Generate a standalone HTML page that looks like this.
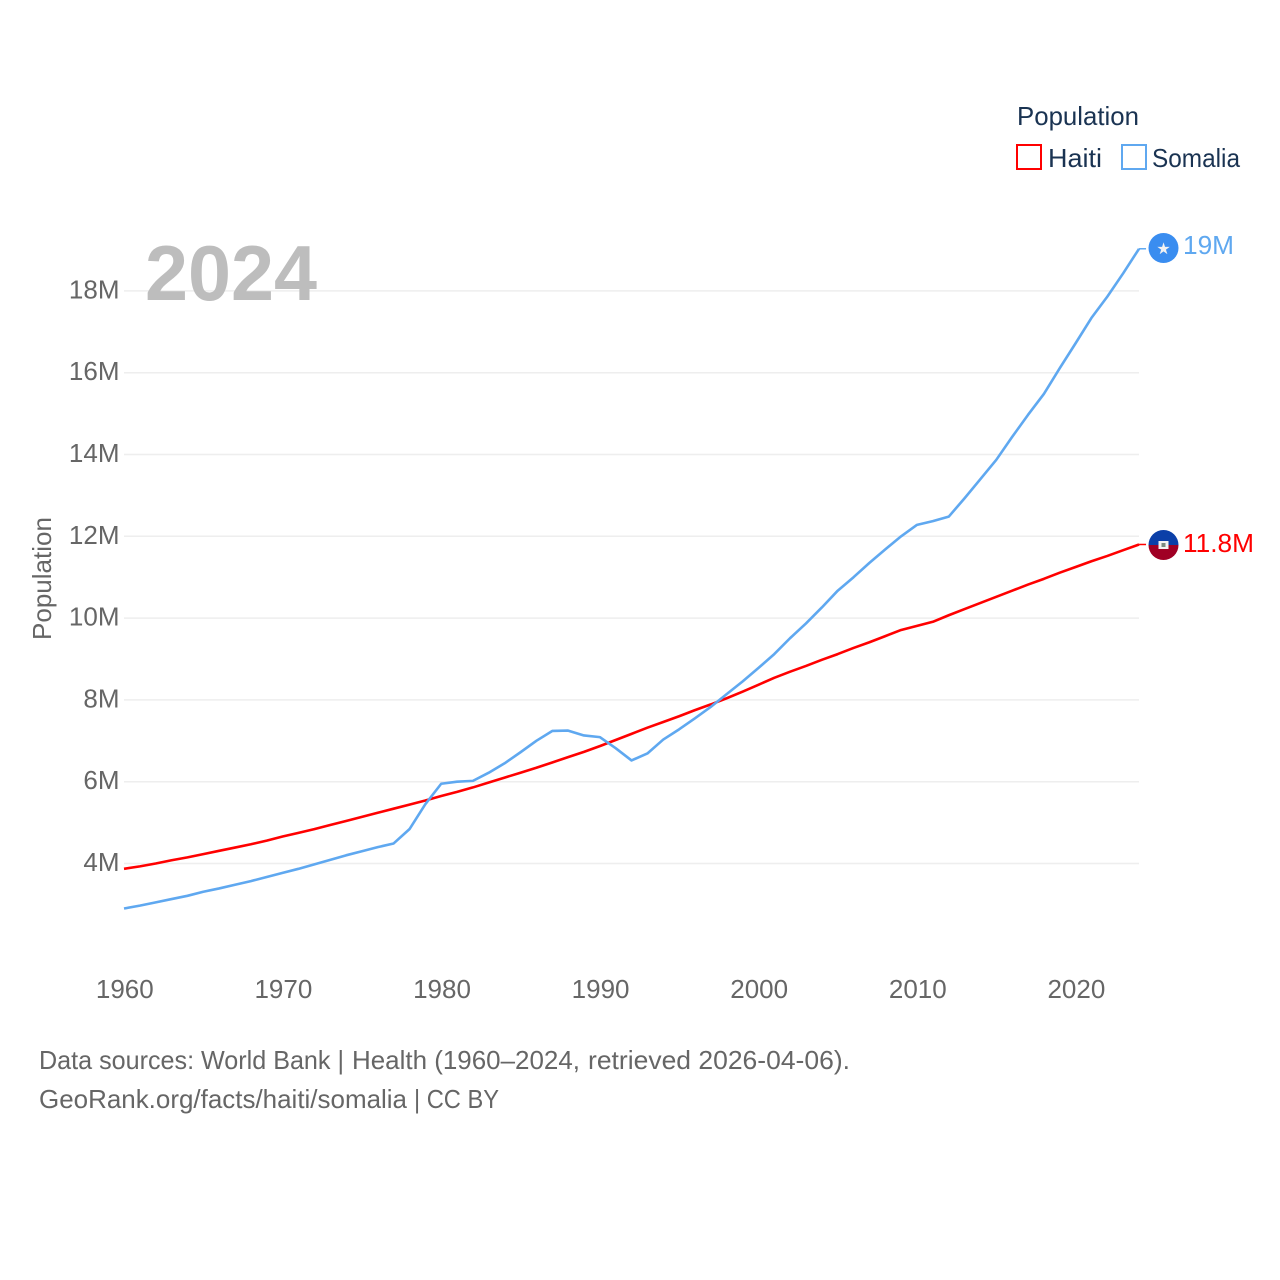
<!DOCTYPE html>
<html lang="en">
<head>
<meta charset="utf-8">
<title>Population: Haiti and Somalia</title>
<style>
html,body{margin:0;padding:0;background:#fff}
svg{display:block;font-family:"Liberation Sans",sans-serif}
</style>
</head>
<body>
<svg id="chart" width="1280" height="1280" viewBox="0 0 1280 1280" xmlns="http://www.w3.org/2000/svg">
  <defs>
    <clipPath id="haiti-clip"><circle cx="1163.5" cy="545" r="15"></circle></clipPath>
  </defs>
  <g id="grid"></g>
  <g id="yticks"></g>
  <g id="xticks"></g>
  <text transform="translate(51,640) rotate(-90)" font-size="26" fill="#666" textLength="123" lengthAdjust="spacingAndGlyphs">Population</text>
  <text x="145" y="300" font-size="78" font-weight="700" fill="#bdbdbd" textLength="172" lengthAdjust="spacingAndGlyphs">2024</text>
  <g id="lines"></g>

  <g>
    <text x="1017" y="125" font-size="26" fill="#1a3352" textLength="122" lengthAdjust="spacingAndGlyphs">Population</text>
    <g>
      <rect x="1017" y="145" width="24" height="24" fill="#fff" stroke="#ff0000" stroke-width="2"></rect>
      <text x="1048" y="167" font-size="26" fill="#1a3352" textLength="54" lengthAdjust="spacingAndGlyphs">Haiti</text>
    </g>
    <g>
      <rect x="1122" y="145" width="24" height="24" fill="#fff" stroke="#5fa8f0" stroke-width="2"></rect>
      <text x="1152" y="167" font-size="26" fill="#1a3352" textLength="88" lengthAdjust="spacingAndGlyphs">Somalia</text>
    </g>
  </g>

  <g>
    <circle cx="1163.5" cy="248" r="15" fill="#3a8df0"></circle>
    <text x="1163.5" y="254" font-family="'DejaVu Sans',sans-serif" font-size="16" fill="#f2f2f2" text-anchor="middle">★</text>
  </g>
  <text x="1183" y="254" font-size="26" fill="#5fa8f0" textLength="51" lengthAdjust="spacingAndGlyphs">19M</text>

  <g clip-path="url(#haiti-clip)">
    <rect x="1148" y="530" width="31" height="15" fill="#0b3fa8"></rect>
    <rect x="1148" y="545" width="31" height="15" fill="#a00024"></rect>
    <rect x="1158.5" y="541" width="10" height="8" fill="#f2f2f2"></rect>
    <rect x="1161.5" y="543" width="4" height="4" fill="#7a8a80"></rect>
  </g>
  <text x="1183" y="552" font-size="26" fill="#ff0000" textLength="71" lengthAdjust="spacingAndGlyphs">11.8M</text>

  <text y="1069" font-size="26" fill="#666"><tspan x="39" textLength="305" lengthAdjust="spacingAndGlyphs">Data sources: World Bank |</tspan><tspan x="352" textLength="228" lengthAdjust="spacingAndGlyphs">Health (1960–2024,</tspan><tspan x="588" textLength="262" lengthAdjust="spacingAndGlyphs">retrieved 2026-04-06).</tspan></text>
  <text y="1108" font-size="26" fill="#666"><tspan x="39" textLength="368" lengthAdjust="spacingAndGlyphs">GeoRank.org/facts/haiti/somalia</tspan><tspan x="414" textLength="85" lengthAdjust="spacingAndGlyphs">| CC BY</tspan></text>
</svg>
<script>
const startYear = 1960;
const haiti = [3.87,3.93,4.00,4.08,4.15,4.23,4.31,4.39,4.47,4.56,4.66,4.75,4.84,4.94,5.04,5.14,5.24,5.34,5.44,5.54,5.65,5.75,5.86,5.98,6.10,6.22,6.34,6.47,6.60,6.73,6.87,7.02,7.17,7.32,7.46,7.60,7.75,7.89,8.04,8.20,8.37,8.54,8.69,8.83,8.98,9.12,9.27,9.41,9.56,9.71,9.81,9.91,10.07,10.22,10.37,10.52,10.67,10.82,10.96,11.11,11.25,11.39,11.52,11.66,11.80];
const somalia = [2.90,2.97,3.05,3.13,3.21,3.31,3.39,3.48,3.57,3.67,3.77,3.87,3.98,4.09,4.20,4.30,4.40,4.49,4.84,5.45,5.95,6.00,6.02,6.22,6.45,6.72,7.00,7.24,7.25,7.13,7.09,6.82,6.52,6.69,7.03,7.28,7.55,7.83,8.14,8.45,8.78,9.12,9.51,9.87,10.26,10.67,11.00,11.35,11.68,12.00,12.28,12.37,12.48,12.93,13.40,13.87,14.43,14.97,15.48,16.11,16.72,17.34,17.86,18.43,19.03];
const yTickValues = [4,6,8,10,12,14,16,18];
const yTickLabels = ["4M","6M","8M","10M","12M","14M","16M","18M"];
const xTickValues = [1960,1970,1980,1990,2000,2010,2020];

const NS = "http://www.w3.org/2000/svg";
const xOf = function (year) { return 124 + (year - 1960) * 15.86; };
const yOf = function (value) { return 863.5 - (value - 4) * 40.9; };
function make(tag, parent) {
  const el = document.createElementNS(NS, tag);
  parent.appendChild(el);
  return el;
}
const grid = document.getElementById("grid");
const yticks = document.getElementById("yticks");
const xticks = document.getElementById("xticks");
const lines = document.getElementById("lines");

yTickValues.forEach(function (v, i) {
  const g = make("line", grid);
  
  
  g.setAttribute("x1", 124);
  g.setAttribute("x2", 1139);
  g.setAttribute("y1", yOf(v));
  g.setAttribute("y2", yOf(v));
  g.setAttribute("stroke", "#eeeeee");
  g.setAttribute("stroke-width", "1.5");
  const t = make("text", yticks);
  
  
  t.setAttribute("x", 119.5);
  t.setAttribute("y", yOf(v) + 7.5);
  t.setAttribute("text-anchor", "end");
  t.setAttribute("font-size", "26");
  t.setAttribute("fill", "#666");
  t.textContent = yTickLabels[i];
});

xTickValues.forEach(function (year) {
  const t = make("text", xticks);
  
  
  t.setAttribute("x", xOf(year) + 0.8);
  t.setAttribute("y", 998);
  t.setAttribute("text-anchor", "middle");
  t.setAttribute("font-size", "26");
  t.setAttribute("fill", "#666");
  t.textContent = String(year);
});

function drawSeries(values, color, lineName, leaderName) {
  const pts = values.map(function (v, i) {
    return xOf(startYear + i).toFixed(2) + "," + yOf(v).toFixed(2);
  }).join(" ");
  const p = make("polyline", lines);
  
  
  p.setAttribute("points", pts);
  p.setAttribute("fill", "none");
  p.setAttribute("stroke", color);
  p.setAttribute("stroke-width", "2.6");
  p.setAttribute("stroke-linejoin", "round");
  const lastIndex = values.length - 1;
  const lead = make("line", lines);
  
  
  lead.setAttribute("x1", xOf(startYear + lastIndex));
  lead.setAttribute("x2", xOf(startYear + lastIndex) + 7);
  lead.setAttribute("y1", yOf(values[lastIndex]));
  lead.setAttribute("y2", yOf(values[lastIndex]));
  lead.setAttribute("stroke", color);
  lead.setAttribute("stroke-width", "1.5");
}
drawSeries(haiti, "#ff0000", "haiti-line", "haiti-leader-line");
drawSeries(somalia, "#5fa8f0", "somalia-line", "somalia-leader-line");
</script>
</body>
</html>
